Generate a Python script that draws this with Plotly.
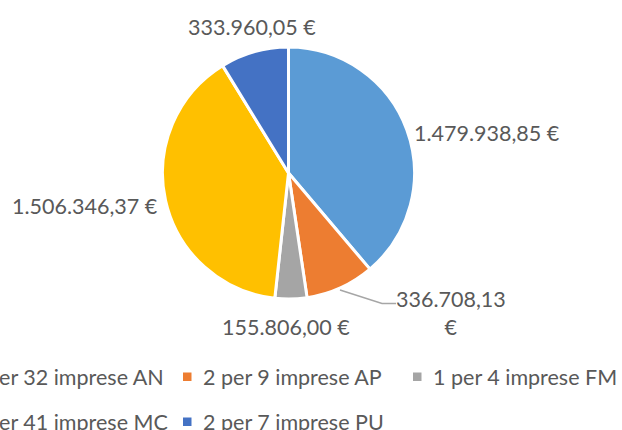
import plotly.graph_objects as go

# ---- data ----
categories = ["4 per 32 imprese AN", "2 per 9 imprese AP", "1 per 4 imprese FM",
              "5 per 41 imprese MC", "2 per 7 imprese PU"]
values = [1479938.85, 336708.13, 155806.00, 1506346.37, 333960.05]
colors = ["#5B9BD5", "#ED7D31", "#A5A5A5", "#FFC000", "#4472C4"]

W, H = 622, 430
FONT = "Lato"
TXT = "#595959"


def fmt_eur(v):
    s = f"{v:,.2f}"
    s = s.replace(",", "X").replace(".", ",").replace("X", ".")
    return s + " €"


def px(x):
    return x / W


def py(y):
    return 1 - y / H


fig = go.Figure()
fig.add_trace(go.Pie(
    labels=categories, values=values, sort=False, direction="clockwise",
    rotation=0, textinfo="none", showlegend=False,
    marker=dict(colors=colors, line=dict(color="white", width=3)),
    domain=dict(x=[px(162.5), px(414.5)], y=[py(299), py(47)]),
))

# data label placement (pixel centres) per slice
label_pos = [(487, 133), (451, 313), (286, 327), (85, 206), (252, 27)]
wrap = {1}
annotations = []
for i, v in enumerate(values):
    t = fmt_eur(v)
    if i in wrap:
        t = t.replace(" €", "<br>€")
    x, y = label_pos[i]
    annotations.append(dict(x=px(x), y=py(y), xref="paper", yref="paper",
                            text=t, showarrow=False, xanchor="center", yanchor="middle",
                            font=dict(family=FONT, size=21.5, color=TXT)))

shapes = [dict(type="path", xref="paper", yref="paper",
               path=f"M {px(340)} {py(290)} L {px(382)} {py(303.5)} L {px(396)} {py(303.5)}",
               line=dict(color="#A6A6A6", width=1.5))]

# custom legend (bottom, 3 columns, clipped at left edge)
col_x = [-51, 183, 413]
row_y = [377, 422]
for i, c in enumerate(categories):
    r, k = divmod(i, 3)
    mx, my = col_x[k], row_y[r]
    shapes.append(dict(type="rect", xref="paper", yref="paper",
                       x0=px(mx), x1=px(mx + 8.5), y0=py(my + 4), y1=py(my - 4.5),
                       fillcolor=colors[i], line=dict(width=0)))
    annotations.append(dict(x=px(mx + 18), y=py(my), xref="paper", yref="paper",
                            text=c, showarrow=False, xanchor="left", yanchor="middle",
                            font=dict(family=FONT, size=21.5, color=TXT)))

fig.update_layout(
    width=W, height=H,
    margin=dict(l=0, r=0, t=0, b=0, autoexpand=False),
    paper_bgcolor="white", plot_bgcolor="white",
    annotations=annotations, shapes=shapes, showlegend=False,
)
fig.write_html("out.html", config={"displayModeBar": False},
               post_script="document.body.style.margin='0';document.body.style.overflow='hidden';")
